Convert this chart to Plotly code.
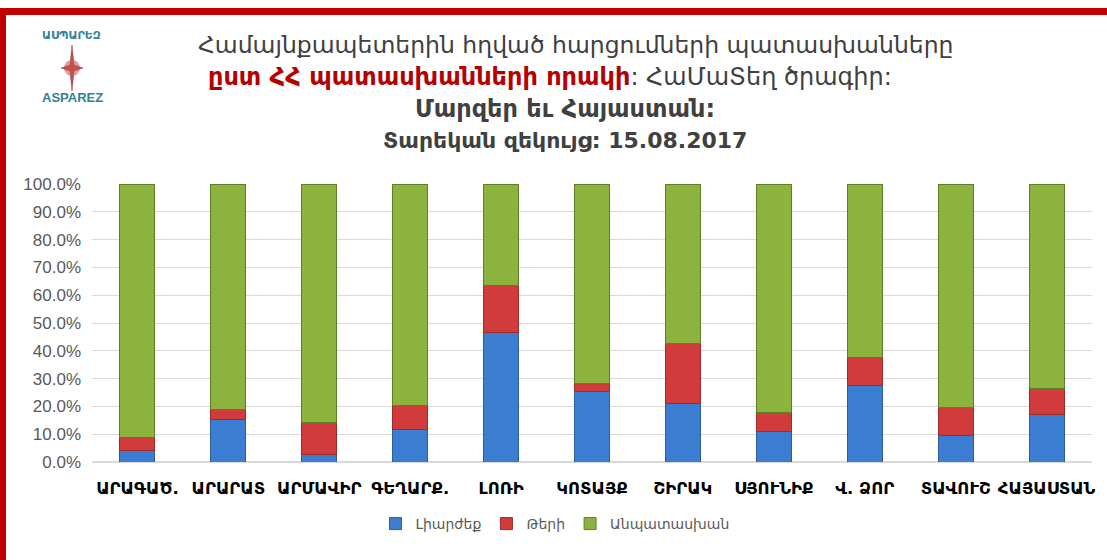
import plotly.graph_objects as go

categories = ["ԱՐԱԳԱԾ.", "ԱՐԱՐԱՏ", "ԱՐՄԱՎԻՐ", "ԳԵՂԱՐՔ.", "ԼՈՌԻ", "ԿՈՏԱՅՔ",
              "ՇԻՐԱԿ", "ՍՅՈՒՆԻՔ", "Վ. ՁՈՐ", "ՏԱՎՈՒՇ", "ՀԱՅԱՍՏԱՆ"]
full = [4.0, 15.4, 2.8, 11.8, 46.5, 25.3, 21.1, 10.8, 27.5, 9.4, 17.1]
partial = [4.8, 3.6, 11.4, 8.7, 17.1, 3.0, 21.7, 6.9, 10.2, 10.2, 9.5]
none_ = [91.2, 81.0, 85.8, 79.5, 36.4, 71.7, 57.2, 82.3, 62.3, 80.4, 73.4]
series_names = ["Լիարժեք", "Թերի", "Անպատասխան"]
y_ticks = [0, 0.1, 0.2, 0.3, 0.4, 0.5, 0.6, 0.7, 0.8, 0.9, 1.0]

W, H = 1107, 560
L, R, T, B = 92, 15, 184, 98

def px(x):
    return (x - L) / (W - L - R)

def py(y):
    return (H - y - B) / (H - T - B)

colors = ["#3b7dd1", "#d23b3b", "#8bb33e"]
lines = ["#2a5e9e", "#9e2a2a", "#5f7f26"]

fig = go.Figure()
for name, vals, c, lc in zip(series_names, [full, partial, none_], colors, lines):
    fig.add_trace(go.Bar(
        x=categories, y=[v / 100 for v in vals], name=name,
        marker=dict(color=c, line=dict(color=lc, width=1)),
        width=0.385,
    ))

font_arm = "DejaVu Sans"

fig.update_layout(
    width=W, height=H,
    barmode="stack",
    paper_bgcolor="white", plot_bgcolor="white",
    margin=dict(l=L, r=R, t=T, b=B),
    showlegend=True,
    legend=dict(orientation="h", x=px(555), xanchor="center", y=py(524), yanchor="middle",
                font=dict(family=font_arm, size=14, color="#595959"),
                itemwidth=30, traceorder="normal"),
    xaxis=dict(tickfont=dict(family=font_arm, size=16.5, color="#000000", weight="bold"),
               showgrid=False, showline=False, ticks="", tickangle=0,
               ticklabelstandoff=14),
    yaxis=dict(range=[0, 1], tickvals=y_ticks, tickformat=".1%",
               tickfont=dict(family="Liberation Sans", size=17, color="#595959"),
               gridcolor="#d9d9d9", gridwidth=1, zeroline=True, zerolinecolor="#d9d9d9",
               showline=False, ticks="", ticklen=0, ticklabelstandoff=10),
)

def note(x, y, text, size, color, family=font_arm):
    fig.add_annotation(x=px(x), y=py(y), xref="paper", yref="paper", showarrow=False,
                       xanchor="center", yanchor="middle", text=text,
                       font=dict(family=family, size=size, color=color))

# Title lines
title_color = "#404040"
note(575, 45, "Համայնքապետերին հղված հարցումների պատասխանները", 23.5, title_color)
note(550, 77, "<b><span style='color:#b50000'>ըստ ՀՀ պատասխանների որակի</span></b>: ՀաՄաՏեղ ծրագիր:",
     24, title_color)
note(565, 109, "<b>Մարզեր եւ Հայաստան:</b>", 24, title_color)
note(565, 140, "<b>Տարեկան զեկույց: 15.08.2017</b>", 22, title_color)

# Logo
teal = "#2f8199"
note(71, 35, "<b>ԱՍՊԱՐԵԶ</b>", 11, teal)
note(72, 98, "<b>ASPAREZ</b>", 13, teal, "Liberation Sans")
cx, cy = 72, 68
pts = [(cx, cy - 23), (cx + 2, cy - 3), (cx + 11, cy), (cx + 2, cy + 3),
       (cx, cy + 23), (cx - 2, cy + 3), (cx - 11, cy), (cx - 2, cy - 3)]
path = "M " + " L ".join(f"{px(a)},{py(b)}" for a, b in pts) + " Z"
fig.add_shape(type="path", path=path, xref="paper", yref="paper",
              fillcolor="#c0504d", line=dict(color="#a03030", width=0.5))
fig.add_shape(type="circle", xref="paper", yref="paper",
              x0=px(cx - 8), x1=px(cx + 8), y0=py(cy + 8), y1=py(cy - 8),
              fillcolor="rgba(200,80,80,0.55)", line=dict(width=0))

# Red frame (top and left)
fig.add_shape(type="rect", xref="paper", yref="paper",
              x0=px(0), x1=px(W), y0=py(15), y1=py(8),
              fillcolor="#c00000", line=dict(width=0), layer="above")
fig.add_shape(type="rect", xref="paper", yref="paper",
              x0=px(0), x1=px(6), y0=py(H), y1=py(8),
              fillcolor="#c00000", line=dict(width=0), layer="above")

fig.write_html("out.html", config={"displayModeBar": False},
               post_script="document.body.style.margin='0';")
